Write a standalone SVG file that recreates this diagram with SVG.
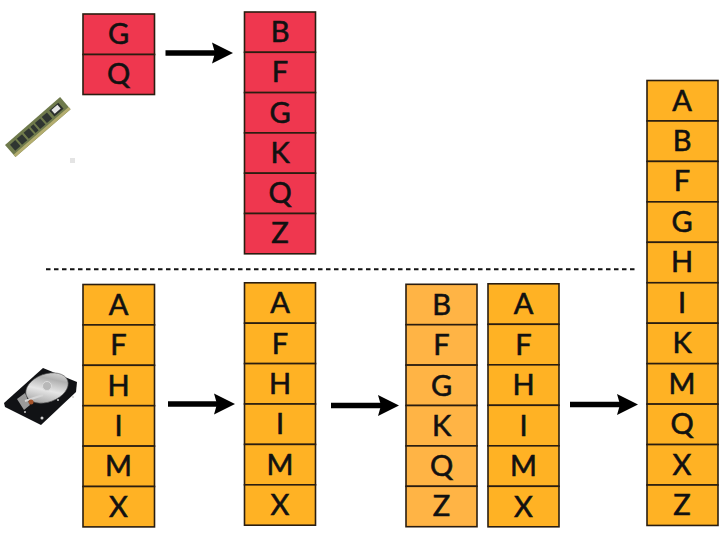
<svg xmlns="http://www.w3.org/2000/svg" width="728" height="546" viewBox="0 0 728 546">
<style>
text{font-family:"Lato","Open Sans","Liberation Sans",sans-serif;font-size:29px;fill:#111;stroke:#111;stroke-width:.6;text-anchor:middle}
.c{stroke:#2a1d10;stroke-width:1.6}
.r{fill:#ef374f}.o{fill:#ffb224}.l{fill:#ffb445}
.a{fill:none;stroke:#000;stroke-width:5.5;marker-end:url(#h)}
.chip{fill:#2f3531}
.s{fill:#cfcfcf}
</style>
<defs>
<marker id="h" markerUnits="userSpaceOnUse" markerWidth="24" markerHeight="24" viewBox="0 0 24 24" refX="4" refY="12" orient="auto"><path d="M1 1.500L22 12L1 22.500L4 12Z" fill="#000"/></marker>
<linearGradient id="p" x1="0" y1="1" x2="1" y2="0"><stop offset="0" stop-color="#8a8a8a"/><stop offset=".45" stop-color="#e6e6e6"/><stop offset=".7" stop-color="#b0b0b0"/><stop offset="1" stop-color="#efefef"/></linearGradient>
</defs>
<rect width="728" height="546" fill="#fff"/>

<g id="connectors">
<line x1="46" y1="269.300" x2="636" y2="269.300" stroke="#111" stroke-width="2" stroke-dasharray="4.500 3.500"/>
<line class="a" x1="165.500" y1="53" x2="215" y2="53"/>
<line class="a" x1="168" y1="404" x2="217" y2="404"/>
<line class="a" x1="331" y1="405.500" x2="381" y2="405.500"/>
<line class="a" x1="570" y1="404.500" x2="620" y2="404.500"/>
</g>

<g id="ram">
<g transform="translate(5 145) rotate(-41)">
<rect x="0" y="0" width="73" height="16" fill="#6f7a4c"/>
<rect x="0" y="13" width="73" height="3" fill="#b3ad6f"/>
<rect class="chip" x="4" y="3" width="7" height="8"/>
<rect class="chip" x="13" y="3" width="7" height="8"/>
<rect class="chip" x="22" y="3" width="7" height="8"/>
<rect class="chip" x="31" y="3" width="4" height="8" fill="#8f8a45"/>
<rect class="chip" x="37" y="3" width="7" height="8"/>
<rect class="chip" x="46" y="3" width="7" height="8"/>
<rect x="56" y="3" width="12" height="8" fill="#2b2f2d"/>
<rect x="58" y="4" width="8" height="5" fill="#e6e6e6"/>
</g>
<rect x="70" y="158" width="5" height="5" fill="#e4e4e4"/>
</g>

<g id="hdd">
<polygon points="43,368 77,382 76,392 41,425 5,407 4,403" fill="#111215"/>
<ellipse cx="47" cy="388" rx="22" ry="14" transform="rotate(-20 47 388)" fill="url(#p)" stroke="#555" stroke-width=".6"/>
<circle cx="47" cy="386" r="4.500" fill="#b8b8b8" stroke="#dcdcdc"/>
<polygon points="17,399 25,393 30,405 24,410" fill="#9a9a9a"/>
<line x1="25" y1="401" x2="43" y2="395" stroke="#d5d5d5" stroke-width="2"/>
<circle cx="31" cy="402" r="2.500" fill="#a5532a"/>
<circle class="s" cx="42" cy="418" r="1.500"/>
<circle class="s" cx="73" cy="397" r="1"/>
<circle class="s" cx="58" cy="400" r="1"/>
<circle class="s" cx="25" cy="412" r="1"/>
</g>

<g id="mem-run">
<rect class="c r" x="83" y="14" width="71.500" height="40.500"/><text x="118.500" y="44">G</text>
<rect class="c r" x="83" y="54.500" width="71.500" height="40"/><text x="118.500" y="84">Q</text>
</g>

<g id="mem-sorted">
<rect class="c r" x="244.500" y="12" width="71" height="40.300"/><text x="280" y="42">B</text>
<rect class="c r" x="244.500" y="52.300" width="71" height="40.300"/><text x="280" y="82">F</text>
<rect class="c r" x="244.500" y="92.600" width="71" height="40.300"/><text x="280" y="123">G</text>
<rect class="c r" x="244.500" y="132.900" width="71" height="40.300"/><text x="280" y="163">K</text>
<rect class="c r" x="244.500" y="173.200" width="71" height="40.300"/><text x="280" y="203">Q</text>
<rect class="c r" x="244.500" y="213.500" width="71" height="40.300"/><text x="280" y="243">Z</text>
</g>

<g id="disk-a">
<rect class="c o" x="83" y="284.500" width="71.500" height="40.400"/><text x="118.500" y="315">A</text>
<rect class="c o" x="83" y="324.900" width="71.500" height="40.400"/><text x="118.500" y="355">F</text>
<rect class="c o" x="83" y="365.300" width="71.500" height="40.400"/><text x="118.500" y="396">H</text>
<rect class="c o" x="83" y="405.700" width="71.500" height="40.400"/><text x="118.500" y="436">I</text>
<rect class="c o" x="83" y="446.100" width="71.500" height="40.400"/><text x="118.500" y="476">M</text>
<rect class="c o" x="83" y="486.500" width="71.500" height="40.400"/><text x="118.500" y="517">X</text>
</g>

<g id="disk-b">
<rect class="c o" x="244.500" y="282.800" width="71" height="40.400"/><text x="280" y="313">A</text>
<rect class="c o" x="244.500" y="323.200" width="71" height="40.400"/><text x="280" y="354">F</text>
<rect class="c o" x="244.500" y="363.600" width="71" height="40.400"/><text x="280" y="394">H</text>
<rect class="c o" x="244.500" y="404" width="71" height="40.400"/><text x="280" y="434">I</text>
<rect class="c o" x="244.500" y="444.400" width="71" height="40.400"/><text x="280" y="475">M</text>
<rect class="c o" x="244.500" y="484.800" width="71" height="40.400"/><text x="280" y="515">X</text>
</g>

<g id="merge-left">
<rect class="c l" x="406" y="284.300" width="71" height="40.400"/><text x="441.500" y="315">B</text>
<rect class="c l" x="406" y="324.700" width="71" height="40.400"/><text x="441.500" y="355">F</text>
<rect class="c l" x="406" y="365.100" width="71" height="40.400"/><text x="441.500" y="396">G</text>
<rect class="c l" x="406" y="405.500" width="71" height="40.400"/><text x="441.500" y="436">K</text>
<rect class="c l" x="406" y="445.900" width="71" height="40.400"/><text x="441.500" y="476">Q</text>
<rect class="c l" x="406" y="486.300" width="71" height="40.400"/><text x="441.500" y="516">Z</text>
</g>

<g id="merge-right">
<rect class="c o" x="488" y="283.800" width="71" height="40.500"/><text x="523.500" y="314">A</text>
<rect class="c o" x="488" y="324.300" width="71" height="40.500"/><text x="523.500" y="355">F</text>
<rect class="c o" x="488" y="364.800" width="71" height="40.500"/><text x="523.500" y="395">H</text>
<rect class="c o" x="488" y="405.300" width="71" height="40.500"/><text x="523.500" y="436">I</text>
<rect class="c o" x="488" y="445.800" width="71" height="40.500"/><text x="523.500" y="476">M</text>
<rect class="c o" x="488" y="486.300" width="71" height="40.500"/><text x="523.500" y="517">X</text>
</g>

<g id="result">
<rect class="c o" x="647" y="80.500" width="71" height="40.450"/><text x="682" y="111">A</text>
<rect class="c o" x="647" y="120.950" width="71" height="40.450"/><text x="682" y="151">B</text>
<rect class="c o" x="647" y="161.400" width="71" height="40.450"/><text x="682" y="191">F</text>
<rect class="c o" x="647" y="201.850" width="71" height="40.450"/><text x="682" y="232">G</text>
<rect class="c o" x="647" y="242.300" width="71" height="40.450"/><text x="682" y="272">H</text>
<rect class="c o" x="647" y="282.750" width="71" height="40.450"/><text x="682" y="313">I</text>
<rect class="c o" x="647" y="323.200" width="71" height="40.450"/><text x="682" y="353">K</text>
<rect class="c o" x="647" y="363.650" width="71" height="40.450"/><text x="682" y="394">M</text>
<rect class="c o" x="647" y="404.100" width="71" height="40.450"/><text x="682" y="434">Q</text>
<rect class="c o" x="647" y="444.550" width="71" height="40.450"/><text x="682" y="475">X</text>
<rect class="c o" x="647" y="485" width="71" height="40.450"/><text x="682" y="515">Z</text>
</g>
</svg>
